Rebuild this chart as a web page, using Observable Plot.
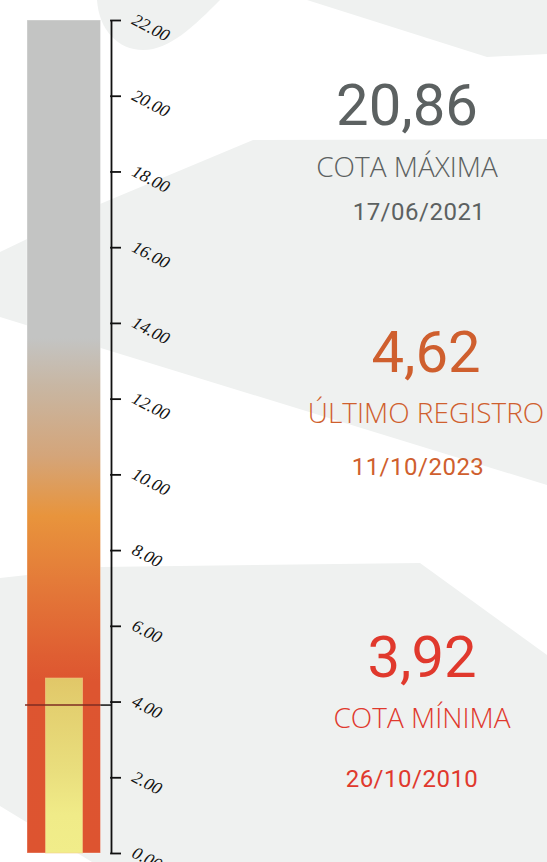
<!DOCTYPE html>
<html>
<head>
<meta charset="utf-8">
<script src="https://cdn.jsdelivr.net/npm/d3@7"></script>
<script src="https://cdn.jsdelivr.net/npm/@observablehq/plot@0.6"></script>
<style>
  html, body { margin: 0; padding: 0; background: #fff; }
  #wrap { position: relative; width: 547px; height: 862px; overflow: hidden; background: #fff; }
  #wrap > svg { position: absolute; left: 0; top: 0; }
</style>
</head>
<body>
<div id="wrap"></div>
<script>
// ---------- data ----------
const scaleDomain = [0, 22];
const tickValues = [0, 2, 4, 6, 8, 10, 12, 14, 16, 18, 20, 22];
const tickLabels = ["0.00", "2.00", "4.00", "6.00", "8.00", "10.00", "12.00", "14.00", "16.00", "18.00", "20.00", "22.00"];
const statValues = [20.86, 4.62, 3.92];            // máxima, último, mínima
const statLabels = ["COTA MÁXIMA", "ÚLTIMO REGISTRO", "COTA MÍNIMA"];
const statDates = ["17/06/2021", "11/10/2023", "26/10/2010"];

const cotaMax = statValues[0];
const ultimo = statValues[1];
const cotaMin = statValues[2];

// ---------- styles ----------
const W = 547, H = 862;
const bgGray = "#eff1f0";
const statColors = ["#5c6161", "#cf5f2e", "#e0392d"];
const mainStops = [
  [22, "#c3c4c3"], [13.6, "#c3c4c3"], [12.3, "#c8b6a2"], [10.5, "#d4a57a"],
  [8.9, "#e8943c"], [7.2, "#e47b39"], [5.2, "#df5e32"], [4.5, "#dd5530"], [0, "#dd5430"]
];
const innerStops = [
  [ultimo, "#e1c768"], [3.9, "#e3cf6f"], [2.2, "#e9de7d"], [1.0, "#f0eb88"], [0, "#f1ed8a"]
];
const tickFont = { family: "'Liberation Serif', 'DejaVu Serif', serif", size: "17.5px" };

const wrap = document.getElementById("wrap");
const NS = "http://www.w3.org/2000/svg";

// ---------- decorative background ----------
const bg = document.createElementNS(NS, "svg");
bg.setAttribute("width", W); bg.setAttribute("height", H);
const bgPaths = [
  "M97,0 C99,30 118,50 143,50 C170,50 195,25 220,0 Z",
  "M307,0 L487,57 L547,54 L547,0 Z",
  "M0,252 L100,204 L253,140 L547,139 L547,485 L0,317 Z",
  "M0,578 L100,567 L420,563 L547,655 L547,862 L92,862 L0,806 Z"
];
for (const d of bgPaths) {
  const p = document.createElementNS(NS, "path");
  p.setAttribute("d", d); p.setAttribute("fill", bgGray);
  bg.appendChild(p);
}
wrap.appendChild(bg);

// ---------- the gauge ----------
const barX1 = 27, barX2 = 100.5, innerX1 = 45.5, innerX2 = 82.5, axisX = 111;

const chart = Plot.plot({
  width: W,
  height: H,
  marginTop: 20,
  marginBottom: 9,
  marginLeft: 0,
  marginRight: 0,
  style: { background: "transparent", overflow: "visible" },
  x: { type: "identity", axis: null },
  y: { domain: scaleDomain, axis: null },
  marks: [
    Plot.rectY([{ lo: scaleDomain[0], hi: scaleDomain[1] }], {
      x1: barX1, x2: barX2, y1: "lo", y2: "hi",
      fill: "url(#gMain)", stroke: "#ffffff", strokeOpacity: 0.35, strokeWidth: 1
    }),
    Plot.rectY([{ lo: 0, hi: ultimo }], {
      x1: innerX1, x2: innerX2, y1: "lo", y2: "hi",
      fill: "url(#gInner)", stroke: "#f3d08a", strokeOpacity: 0.6, strokeWidth: 1
    }),
    Plot.ruleY([cotaMin], { x1: 25, x2: barX2, stroke: "#7e2c22", strokeWidth: 1.5 }),
    Plot.ruleY([cotaMin], { x1: barX2, x2: axisX, stroke: "#111", strokeWidth: 1.5 }),
    Plot.ruleX([axisX], { y1: scaleDomain[0], y2: scaleDomain[1], stroke: "#111", strokeWidth: 1.8 }),
    Plot.ruleY(tickValues, { x1: axisX - 0.9, x2: axisX + 10, stroke: "#111", strokeWidth: 1.8 }),
    Plot.text(tickValues, {
      x: 133, y: d => d, text: (d, i) => tickLabels[i],
      textAnchor: "start", rotate: 28, dy: -2,
      fontFamily: tickFont.family,
      fontStyle: "italic", fontSize: 17.5, fill: "#111"
    })
  ]
});
chart.querySelectorAll('g[aria-label="text"]').forEach(g => {
  g.style.fontSize = tickFont.size;
  g.style.fontStyle = "italic";
  g.style.fontFamily = tickFont.family;
});

// gradients (offsets from the y values)
function addGradient(svg, id, stops, top, bottom) {
  let defs = svg.querySelector("defs");
  if (!defs) { defs = document.createElementNS(NS, "defs"); svg.insertBefore(defs, svg.firstChild); }
  const g = document.createElementNS(NS, "linearGradient");
  g.setAttribute("id", id);
  g.setAttribute("x1", "0"); g.setAttribute("y1", "0"); g.setAttribute("x2", "0"); g.setAttribute("y2", "1");
  for (const [v, c] of stops) {
    const s = document.createElementNS(NS, "stop");
    s.setAttribute("offset", ((top - v) / (top - bottom)).toFixed(4));
    s.setAttribute("stop-color", c);
    g.appendChild(s);
  }
  defs.appendChild(g);
}
addGradient(chart, "gMain", mainStops, scaleDomain[1], scaleDomain[0]);
addGradient(chart, "gInner", innerStops, ultimo, 0);
wrap.appendChild(chart);

// ---------- KPI texts ----------
const fmt = v => d3.format(".2f")(v).replace(".", ",");
const kpi = document.createElementNS(NS, "svg");
kpi.setAttribute("width", W); kpi.setAttribute("height", H);
const layout = [
  { cx: 407, valY: 125, labY: 177, labCx: 407, dateY: 220, dateCx: 419 },
  { cx: 426, valY: 372, labY: 423, labCx: 426, dateY: 475, dateCx: 418 },
  { cx: 422, valY: 677, labY: 728, labCx: 422, dateY: 787, dateCx: 412 }
];
function addText(txt, x, y, size, color, family, weight, spacing) {
  const t = document.createElementNS(NS, "text");
  t.setAttribute("x", x); t.setAttribute("y", y);
  t.setAttribute("text-anchor", "middle");
  t.setAttribute("fill", color);
  t.setAttribute("font-size", size);
  t.setAttribute("font-family", family);
  t.setAttribute("font-weight", weight);
  if (spacing) t.setAttribute("letter-spacing", spacing);
  t.textContent = txt;
  kpi.appendChild(t);
}
statValues.forEach((v, i) => {
  const L = layout[i], c = statColors[i];
  addText(fmt(v), L.cx, L.valY, 58, c, "Roboto, 'Noto Sans', sans-serif", 400);
  addText(statLabels[i], L.labCx, L.labY, 28, c, "'Open Sans', 'Noto Sans', sans-serif", 300);
  addText(statDates[i], L.dateCx, L.dateY, 24, c, "Roboto, 'Noto Sans', sans-serif", 400, "0.5");
});
wrap.appendChild(kpi);
</script>
</body>
</html>
